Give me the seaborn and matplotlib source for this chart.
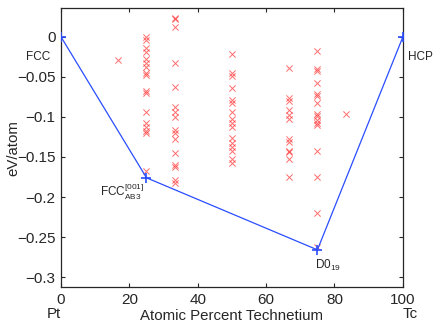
import matplotlib
matplotlib.use("Agg")
import matplotlib.pyplot as plt
import seaborn as sns
import pandas as pd

# Formation energies of Pt-Tc structures (eV/atom) by Tc composition (%)
comp_17 = [16.7]
energy_17 = [-0.029]
comp_25 = [25.0] * 17
energy_25 = [0.0, -0.004, -0.014, -0.019, -0.027, -0.032, -0.038, -0.045, -0.048,
             -0.067, -0.070, -0.094, -0.107, -0.113, -0.117, -0.120, -0.167]
comp_33 = [33.3] * 16
energy_33 = [0.024, 0.022, 0.0125, -0.0325, -0.063, -0.088, -0.094, -0.100,
             -0.116, -0.120, -0.128, -0.145, -0.160, -0.163, -0.179, -0.182]
comp_50 = [50.0] * 16
energy_50 = [-0.021, -0.045, -0.049, -0.064, -0.079, -0.083, -0.094, -0.102,
             -0.108, -0.113, -0.126, -0.133, -0.138, -0.142, -0.153, -0.158]
comp_67 = [66.7] * 12
energy_67 = [-0.039, -0.076, -0.080, -0.091, -0.098, -0.102, -0.128, -0.131,
             -0.142, -0.144, -0.153, -0.175]
comp_75 = [75.0] * 16
energy_75 = [-0.017, -0.040, -0.042, -0.057, -0.071, -0.074, -0.083, -0.096,
             -0.099, -0.104, -0.108, -0.110, -0.142, -0.175, -0.220, -0.263]
comp_83 = [83.3]
energy_83 = [-0.096]

# convex hull
hull_comp = [0, 25, 75, 100]
hull_energy = [0.0, -0.176, -0.266, 0.0]
hull_labels = ["FCC", r"FCC$_{\mathrm{AB3}}^{[001]}$", r"D0$_{19}$", "HCP"]

x_ticks = [0, 20, 40, 60, 80, 100]
y_ticks = [0, -0.05, -0.1, -0.15, -0.2, -0.25, -0.3]

sns.set_style("ticks")
plt.rcParams["font.family"] = ["Liberation Sans", "DejaVu Sans"]
plt.rcParams["mathtext.fontset"] = "custom"
plt.rcParams["mathtext.rm"] = "Liberation Sans"
plt.rcParams["mathtext.it"] = "Liberation Sans"
plt.rcParams["axes.unicode_minus"] = True

points = pd.DataFrame({
    "comp": comp_17 + comp_25 + comp_33 + comp_50 + comp_67 + comp_75 + comp_83,
    "energy": energy_17 + energy_25 + energy_33 + energy_50 + energy_67 + energy_75 + energy_83,
})
hull = pd.DataFrame({"comp": hull_comp, "energy": hull_energy})

fig = plt.figure(figsize=(4.36, 3.24), dpi=100)
ax = fig.add_axes([0.140, 0.114, 0.784, 0.861])

sns.scatterplot(data=points, x="comp", y="energy", marker="x", color="#ff3030",
                s=20, linewidth=0.7, alpha=0.7, ax=ax, zorder=2)
sns.lineplot(data=hull, x="comp", y="energy", sort=False, color="#2a4dff",
             linewidth=0.9, marker="+", markersize=7, markeredgewidth=1.2,
             markeredgecolor="#2a4dff", ax=ax, zorder=3)

# hull labels
ax.text(-3.2, -0.025, hull_labels[0], fontsize=8.5, ha="right", va="center")
ax.annotate(hull_labels[1], (25, -0.176), xytext=(-2, -3), textcoords="offset points",
            fontsize=8.5, ha="right", va="top")
ax.annotate(hull_labels[2], (75, -0.266), xytext=(-2, -6), textcoords="offset points",
            fontsize=8.5, ha="left", va="top")
ax.text(101.5, -0.025, hull_labels[3], fontsize=8.5, ha="left", va="center")

ax.set_xlim(0, 100)
ax.set_ylim(-0.3125, 0.036)
ax.set_xticks(x_ticks)
ax.set_yticks(y_ticks)
ax.set_yticklabels(["0", "\u22120.05", "\u22120.1", "\u22120.15", "\u22120.2", "\u22120.25", "\u22120.3"])
ax.tick_params(direction="in", top=True, right=True, length=3, width=0.8,
               labelsize=11, pad=4)
for sp in ax.spines.values():
    sp.set_linewidth(0.9)
    sp.set_visible(True)

ax.set_xlabel("Atomic Percent Technetium", fontsize=10.8, labelpad=2)
ax.set_ylabel("eV/atom", fontsize=10.8)
ax.yaxis.set_label_coords(-0.12, 0.5)
ax.text(0, -0.072, "Pt", transform=ax.get_xaxis_transform(), fontsize=10.8,
        ha="right", va="top")
ax.text(100, -0.072, "Tc", transform=ax.get_xaxis_transform(), fontsize=10.8,
        ha="left", va="top")

fig.savefig("out.png", dpi=100)
